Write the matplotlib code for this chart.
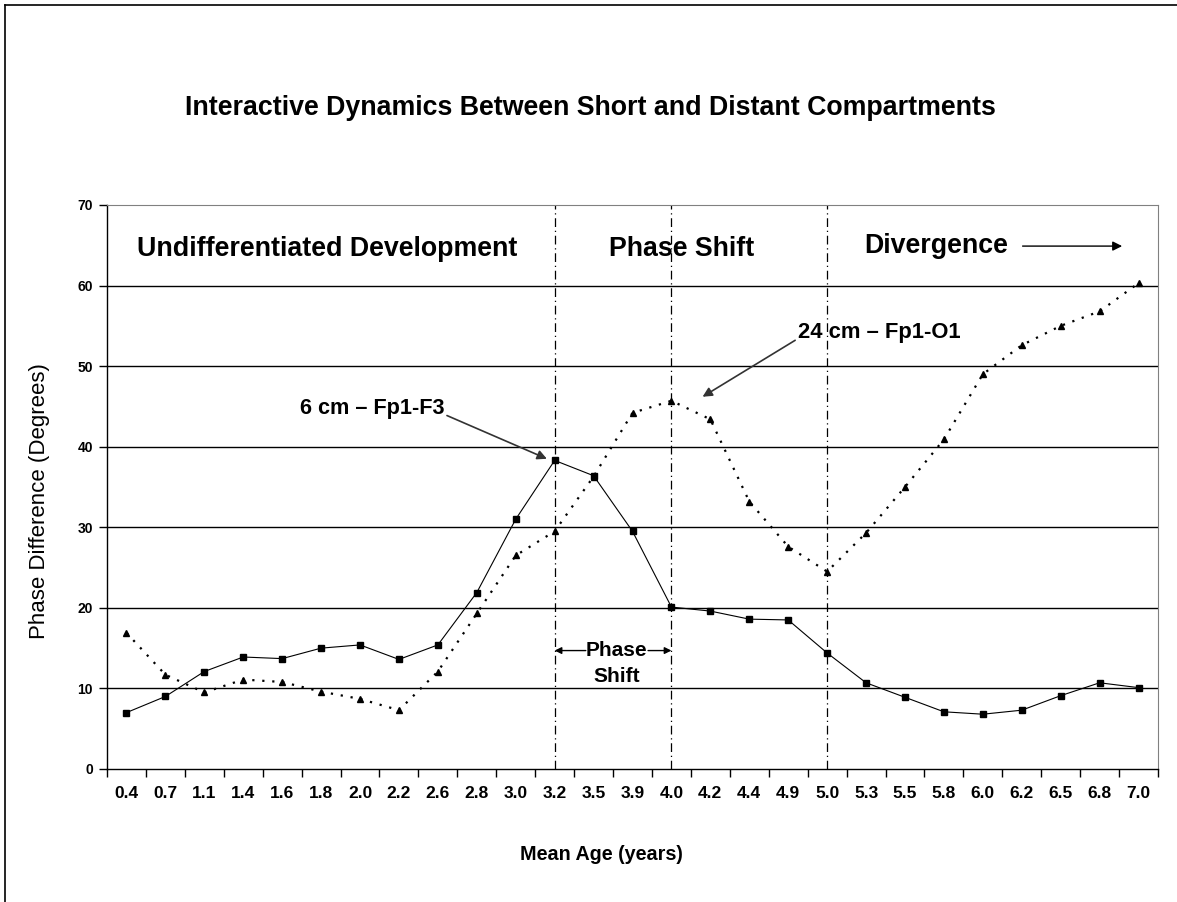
import matplotlib
matplotlib.use("Agg")
import matplotlib.pyplot as plt
from matplotlib.lines import Line2D

plt.rcParams['font.family'] = ['Liberation Sans', 'DejaVu Sans']

# mean age categories (years)
ages = ['0.4', '0.7', '1.1', '1.4', '1.6', '1.8', '2.0', '2.2', '2.6', '2.8',
        '3.0', '3.2', '3.5', '3.9', '4.0', '4.2', '4.4', '4.9', '5.0', '5.3',
        '5.5', '5.8', '6.0', '6.2', '6.5', '6.8', '7.0']

# 6 cm - Fp1-F3 (short)
short_fp1_f3 = [7.0, 9.0, 12.1, 13.9, 13.7, 15.0, 15.4, 13.6, 15.4, 21.9,
                31.0, 38.3, 36.4, 29.5, 20.1, 19.6, 18.6, 18.5, 14.4, 10.7,
                8.9, 7.1, 6.8, 7.3, 9.1, 10.7, 10.1]

# 24 cm - Fp1-O1 (distant)
dist_fp1_o1 = [16.9, 11.7, 9.5, 11.1, 10.8, 9.6, 8.7, 7.3, 12.1, 19.3,
               26.5, 29.5, 36.3, 44.2, 45.7, 43.4, 33.2, 27.6, 24.5, 29.3,
               35.0, 40.9, 49.0, 52.6, 55.0, 56.8, 60.3]

# phase boundaries (category index)
boundaries = [11, 14, 18]

fig = plt.figure(figsize=(11.77, 9.02), dpi=100)
ax = fig.add_axes([107 / 1177, 1 - 769 / 902, (1158 - 107) / 1177, (769 - 205) / 902])

x = list(range(len(ages)))

# gridlines
for g in range(10, 70, 10):
    ax.axhline(g, color='black', lw=1.0, zorder=1)

# phase boundaries
for b in boundaries:
    ax.axvline(b, color='black', lw=0.9, linestyle=(0, (7, 3, 1, 3)), zorder=2)

ax.plot(x, short_fp1_f3, color='black', lw=0.8, marker='s', markersize=4.5, zorder=4)
ax.plot(x, dist_fp1_o1, color='black', lw=1.6, linestyle=(0, (1, 3.5)),
        marker='^', markersize=4.5, zorder=3)

ax.set_xlim(-0.5, len(ages) - 0.5)
ax.set_ylim(0, 70)
ax.set_yticks(range(0, 71, 10))
ax.set_xticks(x)
ax.set_xticklabels(ages, fontsize=12.5, fontweight='bold')
ax.set_xticks([i - 0.5 for i in range(len(ages) + 1)], minor=True)
ax.tick_params(axis='x', which='major', length=0, pad=12)
ax.tick_params(axis='x', which='minor', length=6, width=1.0, direction='out')
ax.tick_params(axis='y', length=6, width=1.0, labelsize=10, pad=4)
for lab in ax.get_yticklabels():
    lab.set_fontweight('bold')

for s in ['top', 'right']:
    ax.spines[s].set_color('#808080')
    ax.spines[s].set_linewidth(0.8)
for s in ['left', 'bottom']:
    ax.spines[s].set_color('black')
    ax.spines[s].set_linewidth(1.0)

# region labels
ax.text(5.15, 64.5, 'Undifferentiated Development', fontsize=19.3, fontweight='bold',
        ha='center', va='center')
ax.text(14.25, 64.5, 'Phase Shift', fontsize=19.3, fontweight='bold',
        ha='center', va='center')
ax.text(18.95, 64.9, 'Divergence', fontsize=19.3, fontweight='bold',
        ha='left', va='center')
ax.annotate('', xy=(25.65, 64.9), xytext=(22.95, 64.9),
            arrowprops=dict(arrowstyle='-|>', color='black', lw=1.0, mutation_scale=14))

# series labels
ax.annotate('24 cm – Fp1-O1', xy=(14.8, 46.2), xytext=(17.25, 54.2),
            fontsize=15.8, fontweight='bold', ha='left', va='center',
            arrowprops=dict(arrowstyle='-|>', color='#333333', lw=1.2, mutation_scale=14,
                            shrinkA=0, shrinkB=0, relpos=(0, 0.2)))
ax.annotate('6 cm – Fp1-F3', xy=(10.8, 38.5), xytext=(4.45, 44.8),
            fontsize=15.6, fontweight='bold', ha='left', va='center',
            arrowprops=dict(arrowstyle='-|>', color='#333333', lw=1.2, mutation_scale=14,
                            shrinkA=0, shrinkB=0, relpos=(1, 0.2)))

# phase shift span
ax.text(12.6, 14.7, 'Phase', fontsize=15, fontweight='bold', ha='center', va='center')
ax.text(12.6, 11.5, 'Shift', fontsize=15, fontweight='bold', ha='center', va='center')
ax.annotate('', xy=(boundaries[0], 14.7), xytext=(11.8, 14.7),
            arrowprops=dict(arrowstyle='-|>', color='black', lw=1.0, mutation_scale=10,
                            shrinkA=0, shrinkB=0))
ax.annotate('', xy=(boundaries[1], 14.7), xytext=(13.4, 14.7),
            arrowprops=dict(arrowstyle='-|>', color='black', lw=1.0, mutation_scale=10,
                            shrinkA=0, shrinkB=0))

fig.text(590 / 1177, 1 - 108 / 902, 'Interactive Dynamics Between Short and Distant Compartments',
         fontsize=19.3, fontweight='bold', ha='center', va='center')
fig.text(601 / 1177, 1 - 855 / 902, 'Mean Age (years)', fontsize=14.2, fontweight='bold',
         ha='center', va='center')
fig.text(40 / 1177, 1 - 501 / 902, 'Phase Difference (Degrees)', fontsize=16,
         rotation=90, ha='center', va='center')

# outer frame (top and left)
fig.add_artist(Line2D([5 / 1177, 1], [1 - 5 / 902, 1 - 5 / 902], color='black', lw=1.2,
                      transform=fig.transFigure))
fig.add_artist(Line2D([5 / 1177, 5 / 1177], [0, 1 - 5 / 902], color='black', lw=1.2,
                      transform=fig.transFigure))

fig.savefig('out.png', dpi=100)
